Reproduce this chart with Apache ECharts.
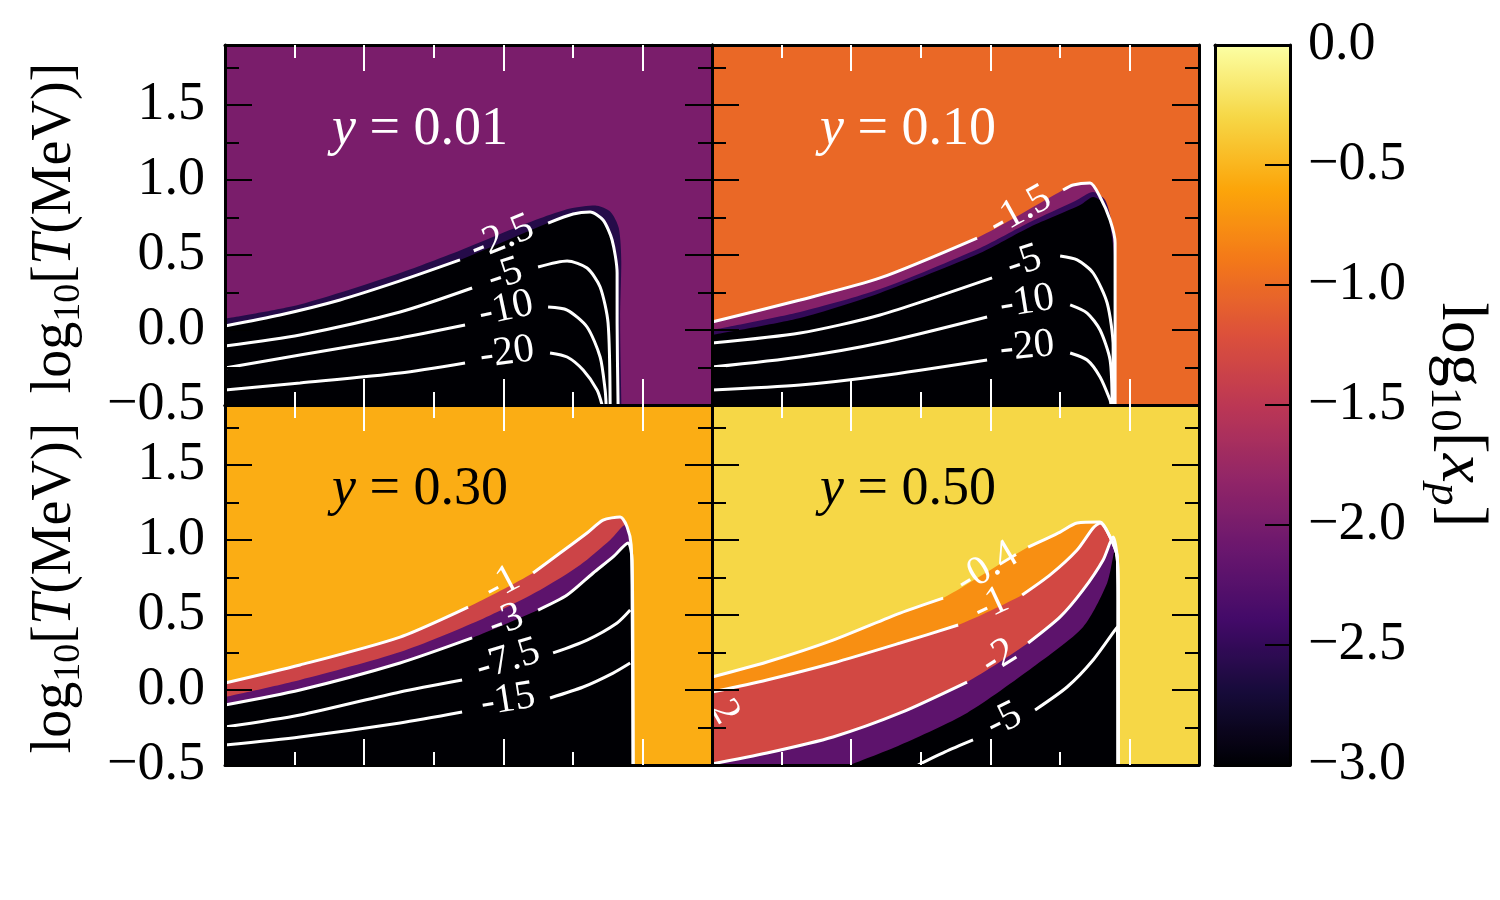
<!DOCTYPE html>
<html>
<head>
<meta charset="utf-8">
<script src="https://cdn.jsdelivr.net/npm/echarts@6/dist/echarts.min.js"></script>
<style>
  html, body { margin: 0; padding: 0; background: #fff; }
  #chart { width: 1500px; height: 900px; }
</style>
</head>
<body>
<div id="chart"></div>
<script>
// axis ranges and ticks
const xRange = [0, 3.5]
const yRange = [-0.5, 1.9]
const cbRange = [-3, 0]
const xTickMajor = [1, 2, 3]
const xTickMinor = [0.5, 1.5, 2.5]
const yTickMajor = [0, 0.5, 1, 1.5]
const yTickMinor = [-0.25, 0.25, 0.75, 1.25, 1.75]
const yTickLabels = [-0.5, 0, 0.5, 1, 1.5]
const cbTicks = [-2.5, -2, -1.5, -1, -0.5]
const cbTickLabels = [-3, -2.5, -2, -1.5, -1, -0.5, 0]

const panelTitles = ['0.01', '0.10', '0.30', '0.50']
const panelBackground = [-1.98, -1.02, -0.55, -0.3]

// y = 0.01
const p1C25 = [[0, 0.027], [0.395, 0.1], [0.827, 0.2], [1.258, 0.327], [1.689, 0.467], '-', [2.322, 0.713], [2.502, 0.773], [2.624, 0.787], [2.717, 0.733], [2.782, 0.6], [2.818, 0.38], [2.818, 0.047], [2.825, -0.5]]
const p1C5 = [[0, -0.107], [0.539, -0.033], [1.258, 0.12], [1.776, 0.28], '-', [2.25, 0.42], [2.459, 0.46], [2.602, 0.413], [2.696, 0.287], [2.753, 0.047], [2.768, -0.5]]
const p1C10 = [[0, -0.253], [0.539, -0.167], [1.258, -0.053], [1.725, 0.033], '-', [2.322, 0.153], [2.459, 0.133], [2.602, 0.02], [2.696, -0.18], [2.732, -0.4], [2.739, -0.5]]
const p1C20 = [[0, -0.4], [0.539, -0.353], [1.258, -0.287], [1.725, -0.22], '-', [2.336, -0.153], [2.459, -0.18], [2.574, -0.267], [2.674, -0.4], [2.71, -0.5]]
const p1Fringe = [[0, 0.075], [0.539, 0.17], [1.258, 0.38], [1.689, 0.53], [1.977, 0.64], [2.265, 0.745], [2.48, 0.81], [2.66, 0.83], [2.768, 0.79], [2.83, 0.68], [2.848, 0.45], [2.84, 0.067], [2.85, -0.5]]
const p1FillLevels = [-2.6, -3]
const p1LabelText = ['-2.5', '-5', '-10', '-20']
const p1LabelPos = [[1.991, 0.613], [2.013, 0.367], [2.02, 0.14], [2.027, -0.153]]
const p1LabelRot = [22, 18, 12, 8]

// y = 0.10
const p2C15 = [[0, 0.053], [0.633, 0.2], [1.208, 0.347], [1.905, 0.613], '-', [2.523, 0.933], [2.595, 0.967], [2.717, 0.98], [2.789, 0.887], [2.861, 0.733], [2.897, 0.58], [2.897, 0], [2.897, -0.5]]
const p2C5 = [[0, -0.087], [0.633, -0.02], [1.208, 0.1], [2.013, 0.347], '-', [2.502, 0.493], [2.624, 0.467], [2.739, 0.38], [2.84, 0.18], [2.883, -0.113], [2.883, -0.5]]
const p2C10 = [[0, -0.247], [0.633, -0.18], [1.208, -0.087], [1.977, 0.087], '-', [2.574, 0.167], [2.696, 0.113], [2.789, 0], [2.861, -0.2], [2.876, -0.5]]
const p2C20 = [[0, -0.4], [0.633, -0.367], [1.208, -0.307], [1.977, -0.2], '-', [2.574, -0.153], [2.696, -0.2], [2.789, -0.313], [2.861, -0.467], [2.868, -0.5]]
const p2Mid = [[0, 0], [0.633, 0.12], [1.208, 0.273], [1.927, 0.547], [2.286, 0.72], [2.61, 0.86], [2.739, 0.92], [2.825, 0.867], [2.876, 0.7], [2.89, 0.467], [2.89, -0.5]]
const p2Black = [[0, -0.033], [0.633, 0.08], [1.208, 0.247], [1.927, 0.513], [2.286, 0.687], [2.646, 0.833], [2.739, 0.887], [2.825, 0.833], [2.861, 0.7], [2.89, 0.467], [2.89, -0.5]]
const p2FillLevels = [-1.9, -2.5, -3]
const p2LabelText = ['-1.5', '-5', '-10', '-20']
const p2LabelPos = [[2.214, 0.793], [2.243, 0.453], [2.265, 0.187], [2.265, -0.113]]
const p2LabelRot = [29, 18, 9, 6]

// y = 0.30
const p3C1 = [[0, 0.047], [0.539, 0.167], [1.258, 0.353], [1.747, 0.553], '-', [2.214, 0.78], [2.408, 0.913], [2.602, 1.047], [2.717, 1.133], [2.84, 1.153], [2.89, 1.087], [2.919, 0.967], [2.926, 0.6], [2.933, -0.5]]
const p3C3 = [[0, -0.1], [0.539, 0], [1.258, 0.18], [1.776, 0.347], '-', [2.25, 0.533], [2.459, 0.633], [2.646, 0.78], [2.789, 0.887], [2.897, 0.98], [2.926, 0.867], [2.933, -0.5]]
const p3C75 = [[0, -0.247], [0.539, -0.167], [1.258, -0.013], [1.704, 0.067], '-', [2.358, 0.247], [2.602, 0.333], [2.818, 0.447], [2.912, 0.533]]
const p3C15 = [[0, -0.367], [0.539, -0.313], [1.258, -0.22], [1.704, -0.147], '-', [2.336, -0.053], [2.574, 0.02], [2.789, 0.113], [2.912, 0.18]]
const p3Mid = [[0, -0.047], [0.539, 0.067], [1.258, 0.253], [1.833, 0.467], [2.265, 0.667], [2.552, 0.833], [2.768, 1.0], [2.876, 1.1], [2.912, 1.0], [2.926, 0.6], [2.933, -0.5]]
const p3FillLevels = [-1.35, -2.2, -3]
const p3LabelText = ['-1', '-3', '-7.5', '-15']
const p3LabelPos = [[1.991, 0.707], [2.02, 0.46], [2.034, 0.2], [2.034, -0.067]]
const p3LabelRot = [28, 20, 17, 9]

// y = 0.50
const p4C04 = [[0, 0.087], [0.395, 0.187], [0.87, 0.333], [1.352, 0.513], [1.661, 0.613], '-', [2.272, 0.953], [2.502, 1.053], [2.624, 1.113], [2.789, 1.12], [2.861, 1.02], [2.912, 0.887], [2.919, 0.6], [2.919, -0.5]]
const p4C1 = [[0, -0.013], [0.395, 0.067], [0.87, 0.18], [1.352, 0.313], [1.769, 0.433], '-', [2.229, 0.633], [2.43, 0.767], [2.624, 0.933], [2.739, 1.08], [2.789, 1.113], [2.861, 1.02], [2.912, 0.887], [2.919, 0.6], [2.919, -0.5]]
const p4C2 = [[0, -0.493], [0.395, -0.42], [0.87, -0.313], [1.352, -0.153], [1.833, 0.053], '-', [2.272, 0.313], [2.502, 0.487], [2.667, 0.667], [2.811, 0.867], [2.883, 1.02], [2.912, 0.887], [2.919, 0.6], [2.919, -0.5]]
const p4C5 = [[1.481, -0.5], [1.675, -0.413], [1.876, -0.333], '-', [2.322, -0.133], [2.552, 0.02], [2.739, 0.2], [2.912, 0.42], [2.919, -0.5]]
const p4Black = [[0.992, -0.5], [1.352, -0.367], [1.833, -0.153], [2.308, 0.153], [2.667, 0.42], [2.84, 0.713], [2.897, 0.933], [2.912, 0.767], [2.919, -0.5]]
const p4FillLevels = [-0.75, -1.3, -2.2, -3]
const p4LabelText = ['-0.4', '-1', '-2', '-5', '2']
const p4LabelPos = [[1.977, 0.813], [2.006, 0.567], [2.063, 0.22], [2.099, -0.2], [0.09, -0.147]]
const p4LabelRot = [31, 25, 32, 26, -60]

const inferno = ['#000004', '#160b39', '#420a68', '#6a176e', '#932667', '#bc3754', '#dd513a', '#f37819', '#fca50a', '#f6d746', '#fcffa4']
const serif = "'Liberation Serif', 'DejaVu Serif', serif"

function cmap(v) {
  const t = Math.min(1, Math.max(0, (v - cbRange[0]) / (cbRange[1] - cbRange[0]))) * (inferno.length - 1)
  const i = Math.min(inferno.length - 2, Math.floor(t))
  const f = t - i
  const a = parseInt(inferno[i].slice(1), 16)
  const b = parseInt(inferno[i + 1].slice(1), 16)
  const ch = s => Math.round(((a >> s) & 255) * (1 - f) + ((b >> s) & 255) * f)
  return 'rgb(' + ch(16) + ',' + ch(8) + ',' + ch(0) + ')'
}

function fmt(v) {
  if (v === 0) return '0.0'
  return (v < 0 ? '\u2212' : '') + Math.abs(v).toFixed(1)
}

const panels = [
  { fills: [p1Fringe, p1C25], levels: p1FillLevels, contours: [p1C25, p1C5, p1C10, p1C20], text: p1LabelText, pos: p1LabelPos, rot: p1LabelRot, titleColor: '#fff' },
  { fills: [p2C15, p2Mid, p2Black], levels: p2FillLevels, contours: [p2C15, p2C5, p2C10, p2C20], text: p2LabelText, pos: p2LabelPos, rot: p2LabelRot, titleColor: '#fff' },
  { fills: [p3C1, p3Mid, p3C3], levels: p3FillLevels, contours: [p3C1, p3C3, p3C75, p3C15], text: p3LabelText, pos: p3LabelPos, rot: p3LabelRot, titleColor: '#000' },
  { fills: [p4C04, p4C1, p4C2, p4Black], levels: p4FillLevels, contours: [p4C04, p4C1, p4C2, p4C5], text: p4LabelText, pos: p4LabelPos, rot: p4LabelRot, titleColor: '#000' }
]
const gridBox = [[225, 45], [712, 45], [225, 405], [712, 405]]
const titleAt = [[420, 130], [908, 130], [420, 490], [908, 490]]

function axis(gridIndex, position, range, ticks, tickLen, tickColor, line, labels) {
  return {
    type: 'value', gridIndex: gridIndex, position: position, min: range[0], max: range[1], z: 10,
    axisLine: { show: line, onZero: false, lineStyle: { color: '#000', width: 3 } },
    axisTick: { show: ticks.length > 0, inside: true, length: tickLen, customValues: ticks, lineStyle: { color: tickColor, width: 2 } },
    axisLabel: labels
      ? { show: true, customValues: labels, formatter: fmt, margin: 20, color: '#000', fontFamily: serif, fontSize: 54 }
      : { show: false },
    splitLine: { show: false },
    axisPointer: { show: false }
  }
}

const grids = []
const xAxes = []
const yAxes = []
const series = []

panels.forEach((p, i) => {
  grids.push({ left: gridBox[i][0], top: gridBox[i][1], width: 487, height: 360, show: true,
    backgroundColor: cmap(panelBackground[i]), borderWidth: 0, outerBoundsMode: 'none' })
  const xi = xAxes.length
  const yi = yAxes.length
  xAxes.push(axis(i, 'bottom', xRange, xTickMajor, 26, '#fff', true, null))
  xAxes.push(axis(i, 'bottom', xRange, xTickMinor, 13, '#fff', false, null))
  xAxes.push(axis(i, 'top', xRange, xTickMajor, 26, '#fff', true, null))
  xAxes.push(axis(i, 'top', xRange, xTickMinor, 13, '#fff', false, null))
  yAxes.push(axis(i, 'left', yRange, yTickMajor, 27, '#000', true, i % 2 === 0 ? yTickLabels : null))
  yAxes.push(axis(i, 'left', yRange, yTickMinor, 14, '#000', false, null))
  yAxes.push(axis(i, 'right', yRange, yTickMajor, 27, '#000', true, null))
  yAxes.push(axis(i, 'right', yRange, yTickMinor, 14, '#000', false, null))

  p.fills.forEach((curve, k) => {
    series.push({
      type: 'line', xAxisIndex: xi, yAxisIndex: yi, data: curve, symbol: 'none', smooth: 0.25,
      connectNulls: true, silent: true, animation: false,
      lineStyle: { width: 0, opacity: 0 },
      areaStyle: { color: cmap(p.levels[k]), opacity: 1, origin: 'start' }
    })
  })
  p.contours.forEach(curve => {
    series.push({
      type: 'line', xAxisIndex: xi, yAxisIndex: yi, data: curve, symbol: 'none', smooth: 0.25,
      connectNulls: false, silent: true, animation: false,
      lineStyle: { color: '#fff', width: 3 }
    })
  })
  series.push({
    type: 'scatter', xAxisIndex: xi, yAxisIndex: yi, symbolSize: 0, silent: true, animation: false, z: 5,
    itemStyle: { color: '#fff', opacity: 1 },
    label: { show: true, position: 'inside', formatter: '{b}', color: '#fff', opacity: 1, fontFamily: serif, fontSize: 41 },
    data: p.text.map((t, k) => ({ name: t, value: p.pos[k], label: { rotate: p.rot[k] } }))
  })
})

// colorbar frame, ticks and labels
grids.push({ left: 1215, top: 45, width: 75, height: 720, show: false, outerBoundsMode: 'none' })
xAxes.push(axis(4, 'bottom', [0, 1], [], 0, '#000', true, null))
xAxes.push(axis(4, 'top', [0, 1], [], 0, '#000', true, null))
yAxes.push(axis(4, 'left', cbRange, [], 0, '#000', true, null))
const cbAxis = axis(4, 'right', cbRange, cbTicks, 25, '#000', true, cbTickLabels)
cbAxis.axisLabel.margin = 18
yAxes.push(cbAxis)

const titleRich = { i: { fontStyle: 'italic', fontFamily: serif, fontSize: 54 } }
const graphics = titleAt.map((at, i) => ({
  type: 'text', x: at[0], y: at[1], z: 20, silent: true,
  style: {
    text: '{i|y} = ' + panelTitles[i], rich: titleRich, fill: panels[i].titleColor,
    fontFamily: serif, fontSize: 54, align: 'center', verticalAlign: 'middle',
    textAlign: 'center', textVerticalAlign: 'middle'
  }
}))

function nameRich(size) {
  const sub = Math.round(size * 0.68)
  const pad = [Math.round(size * 0.5), 0, 0, 0]
  return {
    n: { fontFamily: serif, fontSize: size },
    i: { fontFamily: serif, fontSize: size, fontStyle: 'italic' },
    s: { fontFamily: serif, fontSize: sub, padding: pad },
    si: { fontFamily: serif, fontSize: sub, fontStyle: 'italic', padding: pad }
  }
}
const yName = '{n|log}{s|10}{n|[}{i|T}{n|(MeV)]}'
;[228, 588].forEach(cy => graphics.push({
  type: 'text', x: 55, y: cy, rotation: Math.PI / 2, z: 20, silent: true,
  style: { text: yName, rich: nameRich(56), fill: '#000', align: 'center', verticalAlign: 'middle', textAlign: 'center', textVerticalAlign: 'middle' }
}))
graphics.push({
  type: 'text', x: 1460, y: 415, rotation: -Math.PI / 2, z: 20, silent: true,
  style: { text: '{n|log}{s|10}{n|[}{i|x}{si|p}{n|]}', rich: nameRich(66), fill: '#000', align: 'center', verticalAlign: 'middle', textAlign: 'center', textVerticalAlign: 'middle' }
})

const chart = echarts.init(document.getElementById('chart'))
chart.setOption({
  animation: false,
  backgroundColor: '#fff',
  grid: grids,
  xAxis: xAxes,
  yAxis: yAxes,
  visualMap: {
    type: 'continuous', min: cbRange[0], max: cbRange[1], seriesIndex: [],
    inRange: { color: inferno }, orient: 'vertical', left: 1215, top: 45, padding: 0,
    itemWidth: 75, itemHeight: 720, calculable: false, hoverLink: false, text: null
  },
  graphic: graphics,
  series: series
})
</script>
</body>
</html>
